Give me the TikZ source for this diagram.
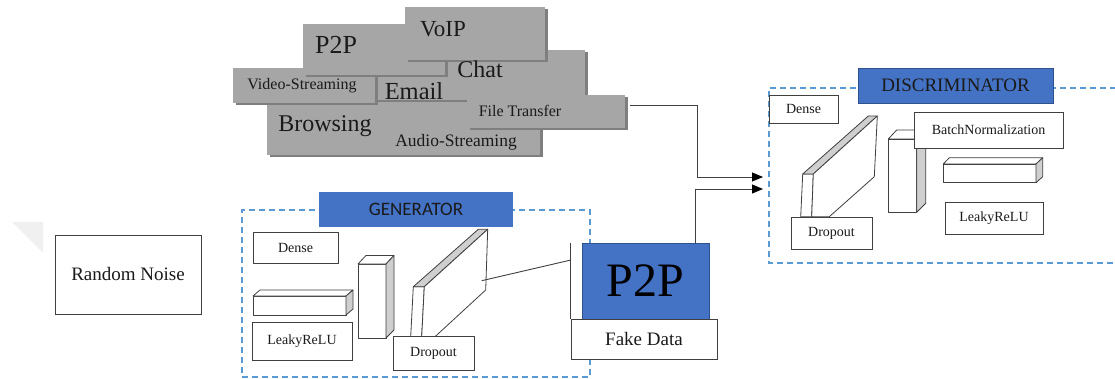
\documentclass[tikz,border=0pt]{standalone}
\usepackage{fontspec}
\setmainfont{Liberation Serif}
\newfontfamily\calibfont{Carlito}
\usetikzlibrary{arrows.meta,shadows}
\definecolor{dashblue}{HTML}{5B9BD5}
\definecolor{boxblue}{HTML}{4472C4}
\definecolor{boxblueedge}{HTML}{2F528F}
\definecolor{cloudgray}{HTML}{A6A6A6}
\definecolor{cloudshadow}{HTML}{7F7F7F}
\definecolor{sidegray}{HTML}{CFCFCF}
\definecolor{edgecol}{HTML}{404040}
\definecolor{txtcol}{HTML}{1A1A1A}
\newcommand\fsz[1]{\fontsize{#1}{#1}\selectfont}
\begin{document}
\begin{tikzpicture}[x=1pt,y=-1pt,
  wbox/.style={draw=edgecol,line width=0.8pt,fill=white,inner sep=0pt,text=txtcol},
  cloudbox/.style={fill=cloudgray,draw=none,inner sep=0pt,
    drop shadow={shadow xshift=2.5pt,shadow yshift=-2.5pt,fill=cloudshadow,opacity=1}},
  cloudtxt/.style={inner sep=0pt,anchor=base,text=txtcol},
  dashframe/.style={draw=dashblue,line width=1.1pt,dash pattern=on 6pt off 4pt},
  bluebox/.style={fill=boxblue,inner sep=0pt,text=txtcol},
  prism/.style={draw=edgecol,line width=0.8pt,fill=white,line join=round},
  prismside/.style={draw=edgecol,line width=0.8pt,fill=sidegray,line join=round},
  conn/.style={draw=edgecol,line width=0.9pt},
  arrowconn/.style={conn,-{Triangle[length=11pt,width=9pt,color=black]}}]
\useasboundingbox (0,0) rectangle (1115,379);
\fill[white] (0,0) rectangle (1115,379);

% faint artifact
\fill[black!6] (12,222) -- (43,222) -- (43,253) -- cycle;

% ---------- traffic classes cloud ----------
\node[cloudbox,minimum width=200,minimum height=53] (bbrowse) at (367,128.5) {};
\node[cloudbox,minimum width=158,minimum height=28] (baudio) at (461,141) {};
\node[cloudbox,minimum width=210,minimum height=50] (bchat) at (480,75) {};
\node[cloudbox,minimum width=158,minimum height=33] (bft) at (546,111.5) {};
\node[cloudbox,minimum width=142,minimum height=35] (bvideo) at (304,85.5) {};
\node[cloudbox,minimum width=142,minimum height=51] (bp2p) at (374,49.5) {};
\node[cloudbox,minimum width=140,minimum height=53] (bvoip) at (475,33.5) {};

\node[cloudtxt] (tvoip) at (443,37) {\fsz{23}VoIP};
\node[cloudtxt] (tp2p) at (336,54) {\fsz{26}P2P};
\node[cloudtxt] (tvideo) at (302,90) {\fsz{16}Video-Streaming};
\node[cloudtxt] (tchat) at (480,78) {\fsz{24}Chat};
\node[cloudtxt] (temail) at (414,100) {\fsz{24.5}Email};
\node[cloudtxt] (tft) at (520,117) {\fsz{16}File Transfer};
\node[cloudtxt] (tbrowse) at (325,132) {\fsz{24}Browsing};
\node[cloudtxt] (taudio) at (456,147) {\fsz{17.5}Audio-Streaming};

% ---------- random noise ----------
\node[wbox,minimum width=146,minimum height=79] (noise) at (128,274.5) {\fsz{19}Random Noise};

% ---------- generator ----------
\node[dashframe,minimum width=348,minimum height=167,inner sep=0pt] (genframe) at (416,293.5) {};
\node[bluebox,minimum width=194,minimum height=35] (genlabel) at (416,209.5) {\calibfont\fsz{19}GENERATOR};
\node[wbox,minimum width=85,minimum height=31] (gdense) at (295.5,247.5) {\fsz{14}Dense};

% flat prism
\filldraw[prism] (253,296) rectangle (346,315);
\filldraw[prism] (253,296) -- (260,290) -- (353,290) -- (346,296) -- cycle;
\filldraw[prismside] (346,296) -- (353,290) -- (353,309) -- (346,315) -- cycle;

\node[wbox,minimum width=100,minimum height=38] (gleaky) at (302,341) {\fsz{14}LeakyReLU};

% tall prism
\filldraw[prism] (358,264) rectangle (386,338);
\filldraw[prism] (358,264) -- (366,255.5) -- (394,255.5) -- (386,264) -- cycle;
\filldraw[prismside] (386,264) -- (394,255.5) -- (394,330) -- (386,338) -- cycle;

% slab
\filldraw[prism] (413.3,286.7) -- (424.3,286.7) -- (421.7,336.7) -- (410.7,336.7) -- cycle;
\filldraw[prismside] (413.3,286.7) -- (478.3,229.3) -- (487.7,229.3) -- (424.3,286.7) -- cycle;
\filldraw[prism] (424.3,286.7) -- (487.7,229.3) -- (485.7,290) -- (435,336.7) -- (421.7,336.7) -- cycle;
\coordinate (gslabpt) at (481.7,280.7);

\node[wbox,minimum width=81,minimum height=34] (gdrop) at (433.5,353) {\fsz{14}Dropout};

% ---------- P2P fake data ----------
\node[fill=white,inner sep=0pt,minimum width=11,minimum height=76] (p2pside) at (576.5,281) {};
\draw[conn] (p2pside.north west) -- (p2pside.south west);
\node[bluebox,draw=boxblueedge,line width=0.8pt,minimum width=127,minimum height=76,text=black] (p2pbox) at (645.5,281) {\fsz{48}P2P};
\node[wbox,minimum width=146,minimum height=40] (fake) at (644,339) {\fsz{19}Fake Data};
\coordinate (p2pjoin) at (571,260);
\draw[conn] (gslabpt) -- (p2pjoin);

% ---------- discriminator ----------
\draw[dashframe] (1116,88) -- (769,88) -- (769,263) -- (1116,263);
\node[bluebox,draw=boxblueedge,line width=0.8pt,minimum width=195,minimum height=35] (disclabel) at (955.5,85.5) {\fsz{19}DISCRIMINATOR};
\node[wbox,minimum width=69,minimum height=28] (ddense) at (803.5,109) {\fsz{14}Dense};

% slab
\filldraw[prism] (802.7,174) -- (813.3,174) -- (811.7,216.7) -- (800.7,216.7) -- cycle;
\filldraw[prismside] (802.7,174) -- (868.3,116) -- (877.3,116) -- (813.3,174) -- cycle;
\filldraw[prism] (813.3,174) -- (877.3,116) -- (874.3,176.7) -- (829.3,216.7) -- (811.7,216.7) -- cycle;
\node[wbox,minimum width=81,minimum height=32] (ddrop) at (831.5,233) {\fsz{14}Dropout};

% tall prism
\filldraw[prism] (888.3,139) rectangle (916.7,212.3);
\filldraw[prism] (888.3,139) -- (896.7,130) -- (925.7,130) -- (916.7,139) -- cycle;
\filldraw[prismside] (916.7,139) -- (925.7,130) -- (925.7,203.3) -- (916.7,212.3) -- cycle;
\node[wbox,minimum width=149,minimum height=36] (dbatch) at (988.5,130) {\fsz{14}BatchNormalization};

% flat prism
\filldraw[prism] (943.3,164) rectangle (1036,182.7);
\filldraw[prism] (943.3,164) -- (949.3,157.7) -- (1042.7,157.7) -- (1036,164) -- cycle;
\filldraw[prismside] (1036,164) -- (1042.7,157.7) -- (1042.7,176.7) -- (1036,182.7) -- cycle;
\node[wbox,minimum width=98,minimum height=32] (dleaky) at (994,218) {\fsz{14}LeakyReLU};

% ---------- connectors ----------
\coordinate (ftout) at (630,105);
\coordinate (discin1) at (763,177);
\coordinate (discin2) at (763,189);
\draw[arrowconn] (ftout) -- (697,105) |- (discin1);
\draw[arrowconn] ([xshift=49.5pt]p2pbox.north) |- (discin2);
\end{tikzpicture}
\end{document}
